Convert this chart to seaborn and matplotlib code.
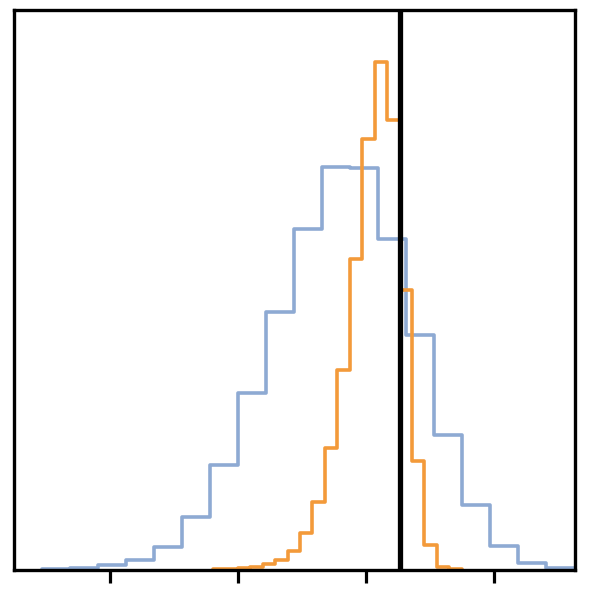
import numpy as np
import pandas as pd
import matplotlib
matplotlib.use("Agg")
import matplotlib.pyplot as plt
import seaborn as sns

# --- data (bin edges and heights) ---
blue_start = -2.531
blue_width = 0.21875
blue_counts = [1, 2, 5, 10, 23, 53, 105, 177, 258, 341, 403, 402, 331, 235, 135, 65, 24, 7, 2]

orange_start = -1.196
orange_width = 0.0972
orange_counts = [0.5, 1, 2, 3, 6, 10, 19, 37, 68, 122, 200, 311, 431, 508, 450, 280, 109, 25, 3, 1]

marker_x = 0.262
tick_positions = [-2, -1, 0, 1]

blue_edges = blue_start + blue_width * np.arange(len(blue_counts) + 1)
orange_edges = orange_start + orange_width * np.arange(len(orange_counts) + 1)

blue_df = pd.DataFrame({"x": (blue_edges[:-1] + blue_edges[1:]) / 2, "w": blue_counts})
orange_df = pd.DataFrame({"x": (orange_edges[:-1] + orange_edges[1:]) / 2, "w": orange_counts})

sns.set_style("ticks")
fig = plt.figure(figsize=(5.96, 5.92), dpi=100)
ax = fig.add_axes([0.0235, 0.0372, 0.9413, 0.9458])

sns.histplot(data=blue_df, x="x", weights="w", bins=list(blue_edges), element="step",
             fill=False, color="#8eaad3", linewidth=2.6, ax=ax)
sns.histplot(data=orange_df, x="x", weights="w", bins=list(orange_edges), element="step",
             fill=False, color="#f39a3a", linewidth=2.6, ax=ax)
ax.axvline(marker_x, color="black", linewidth=3.8)

ax.set_xlim(-2.75, 1.633)
ax.set_ylim(0, 560)
ax.set_xticks(tick_positions)
ax.set_xticklabels([])
ax.set_yticks([])
ax.set_xlabel("")
ax.set_ylabel("")
ax.tick_params(axis="x", length=9, width=2.3, color="black")
for s in ax.spines.values():
    s.set_linewidth(2.4)
    s.set_color("black")

fig.savefig("out.png", dpi=100)
